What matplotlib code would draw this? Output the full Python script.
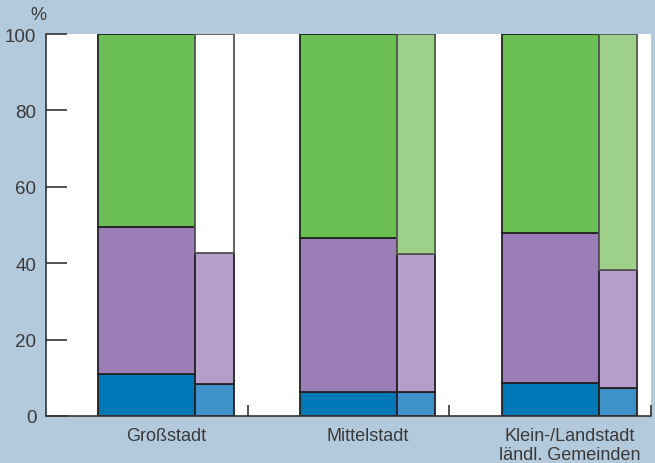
import numpy as np
import matplotlib
matplotlib.use('Agg')
import matplotlib.pyplot as plt

groups = ['Großstadt', 'Mittelstadt', 'Klein-/Landstadt\nländl. Gemeinden']
# wide bars (left of each pair)
wide_blue = [11.0, 6.3, 8.6]
wide_purple = [38.5, 40.4, 39.2]
wide_green = [50.5, 53.3, 52.2]
# narrow bars (right of each pair)
narrow_blue = [8.5, 6.2, 7.2]
narrow_purple = [34.3, 36.1, 31.0]
narrow_top = [57.2, 57.7, 61.8]
narrow_top_colors = ['white', '#9dd18a', '#9dd18a']

bg = '#b3c9dc'
txt = '#3a3a3a'
fig = plt.figure(figsize=(6.55, 4.64), dpi=100, facecolor=bg)
ax = fig.add_axes([46 / 655, 47 / 464, 605 / 655, 382 / 464])
ax.set_facecolor('white')

x = np.arange(len(groups))
wide_left = x + 0.26
wide_w = 0.48
narrow_left = wide_left + wide_w
narrow_w = 0.19
edge = dict(edgecolor='#222222', linewidth=1.3, align='edge')

ax.bar(wide_left, wide_blue, wide_w, color='#0077b6', **edge)
ax.bar(wide_left, wide_purple, wide_w, bottom=wide_blue, color='#9b7db8', **edge)
ax.bar(wide_left, wide_green, wide_w,
       bottom=np.add(wide_blue, wide_purple), color='#6cbf52', **edge)

ax.bar(narrow_left, narrow_blue, narrow_w, color='#3f91c9', **edge)
ax.bar(narrow_left, narrow_purple, narrow_w, bottom=narrow_blue, color='#b59ecb', **edge)
ax.bar(narrow_left, narrow_top, narrow_w,
       bottom=np.add(narrow_blue, narrow_purple), color=narrow_top_colors,
       edgecolor='#555555', linewidth=1.3, align='edge')

ax.set_xlim(0, 3)
ax.set_ylim(0, 100)
ax.set_yticks([0, 20, 40, 60, 80, 100])
ax.tick_params(axis='y', direction='in', length=15, width=1.2, color='#333333',
               labelsize=13.5, labelcolor=txt, pad=7)
ax.set_xticks([1, 2, 3])
ax.set_xticklabels([])
ax.tick_params(axis='x', direction='in', length=8, width=1.2, color='#333333')

# labels sit under the centre of each bar pair
label_x = wide_left + (wide_w + narrow_w) / 2
for xi, name in zip(label_x, groups):
    ax.text(xi, -2.8, name, ha='center', va='top', fontsize=13, color=txt,
            linespacing=1.2)

for s in ['top', 'right']:
    ax.spines[s].set_visible(False)
for s in ['left', 'bottom']:
    ax.spines[s].set_color('#333333')
    ax.spines[s].set_linewidth(1.2)

ax.text(0.0, 103, '%', ha='right', va='bottom', fontsize=13, color=txt)

for t in ax.texts + ax.get_yticklabels():
    t.set_family(['Liberation Sans', 'DejaVu Sans'])

fig.savefig('out.png', dpi=100, facecolor=bg)
